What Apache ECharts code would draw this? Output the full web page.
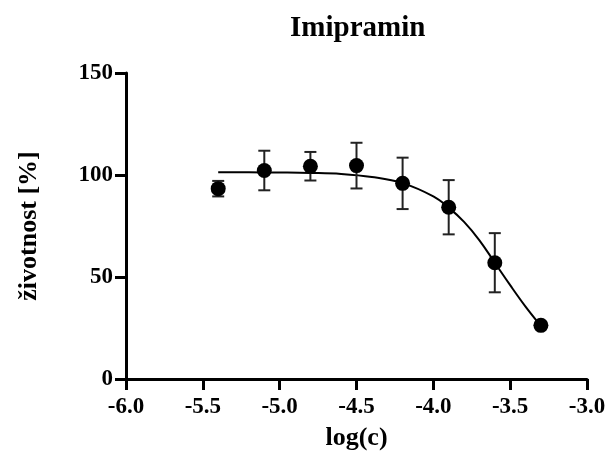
<!DOCTYPE html>
<html>
<head>
<meta charset="utf-8">
<script src="https://cdn.jsdelivr.net/npm/echarts@6/dist/echarts.min.js"></script>
<style>
  html, body { margin: 0; padding: 0; background: #fff; }
  #chart { width: 609px; height: 459px; }
</style>
</head>
<body>
<div id="chart"></div>
<script>
// measured points (mean +/- error)
const logC = [-5.4, -5.1, -4.8, -4.5, -4.2, -3.9, -3.6, -3.3];
const viability = [93.3, 102.2, 104.3, 104.6, 95.9, 84.2, 57.0, 26.3];
const errors = [3.8, 9.7, 7.0, 11.2, 12.6, 13.3, 14.5, 1.5];

// fitted curve
const curveX = [-5.4, -5.2, -5.0, -4.8, -4.6, -4.4, -4.2, -4.0, -3.9, -3.8, -3.7, -3.6, -3.5, -3.4, -3.3];
const curveY = [101.3, 101.3, 101.2, 101.0, 100.5, 99.0, 96.0, 89.5, 84.0, 77.0, 68.0, 57.0, 46.0, 35.5, 26.0];

const xTicks = [-6.0, -5.5, -5.0, -4.5, -4.0, -3.5, -3.0];
const yTicks = [0, 50, 100, 150];

const font = 'Liberation Serif';

function pairs(xs, ys) {
    const out = [];
    xs.forEach(function(x, i) {
        out.push([x, ys[i]]);
    });
    return out;
}

const errData = [];
logC.forEach(function(x, i) {
    errData.push([x, viability[i] - errors[i], viability[i] + errors[i]]);
});

var chart = echarts.init(document.getElementById('chart'));

option = {
    backgroundColor: '#fff',
    animation: false,
    title: {
        text: 'Imipramin',
        left: 285,
        top: 9,
        textStyle: { fontFamily: font, fontWeight: 'bold', fontSize: 29, color: '#000' }
    },
    grid: { left: 126, right: 22, top: 73, bottom: 80, containLabel: false, outerBoundsMode: 'none' },
    xAxis: {
        type: 'value',
        min: xTicks[0],
        max: xTicks[xTicks.length - 1],
        interval: 0.5,
        name: 'log(c)',
        nameLocation: 'middle',
        nameGap: 46,
        nameTextStyle: { fontFamily: font, fontWeight: 'bold', fontSize: 26, color: '#000' },
        axisLine: { show: true, onZero: false, lineStyle: { color: '#000', width: 3 } },
        axisTick: { show: true, inside: false, length: 11, lineStyle: { color: '#000', width: 3 } },
        axisLabel: {
            margin: 17,
            fontFamily: font, fontWeight: 'bold', fontSize: 23, color: '#000',
            formatter: function(v) { return v.toFixed(1); }
        },
        splitLine: { show: false }
    },
    yAxis: {
        type: 'value',
        min: yTicks[0],
        max: yTicks[yTicks.length - 1],
        interval: 50,
        name: 'životnost [%]',
        nameLocation: 'middle',
        nameGap: 84,
        nameTextStyle: { fontFamily: font, fontWeight: 'bold', fontSize: 26, color: '#000' },
        axisLine: { show: true, onZero: false, lineStyle: { color: '#000', width: 3 } },
        axisTick: { show: true, inside: false, length: 11, lineStyle: { color: '#000', width: 3 } },
        axisLabel: { margin: 13, fontFamily: font, fontWeight: 'bold', fontSize: 23, color: '#000' },
        splitLine: { show: false }
    },
    series: [
        {
            type: 'line',
            data: pairs(curveX, curveY),
            smooth: 0.4,
            showSymbol: false,
            lineStyle: { color: '#000', width: 2 },
            z: 2
        },
        {
            type: 'custom',
            data: errData,
            renderItem: function(params, api) {
                const x = api.value(0);
                const lo = api.coord([x, api.value(1)]);
                const hi = api.coord([x, api.value(2)]);
                const half = 6;
                const style = { stroke: '#222', lineWidth: 2 };
                return {
                    type: 'group',
                    children: [
                        { type: 'line', shape: { x1: lo[0], y1: lo[1], x2: hi[0], y2: hi[1] }, style: style },
                        { type: 'line', shape: { x1: hi[0] - half, y1: hi[1], x2: hi[0] + half, y2: hi[1] }, style: style },
                        { type: 'line', shape: { x1: lo[0] - half, y1: lo[1], x2: lo[0] + half, y2: lo[1] }, style: style }
                    ]
                };
            },
            z: 3
        },
        {
            type: 'scatter',
            data: pairs(logC, viability),
            symbol: 'circle',
            symbolSize: 15,
            itemStyle: { color: '#000', opacity: 1 },
            z: 4
        }
    ]
};

chart.setOption(option);
</script>
</body>
</html>
